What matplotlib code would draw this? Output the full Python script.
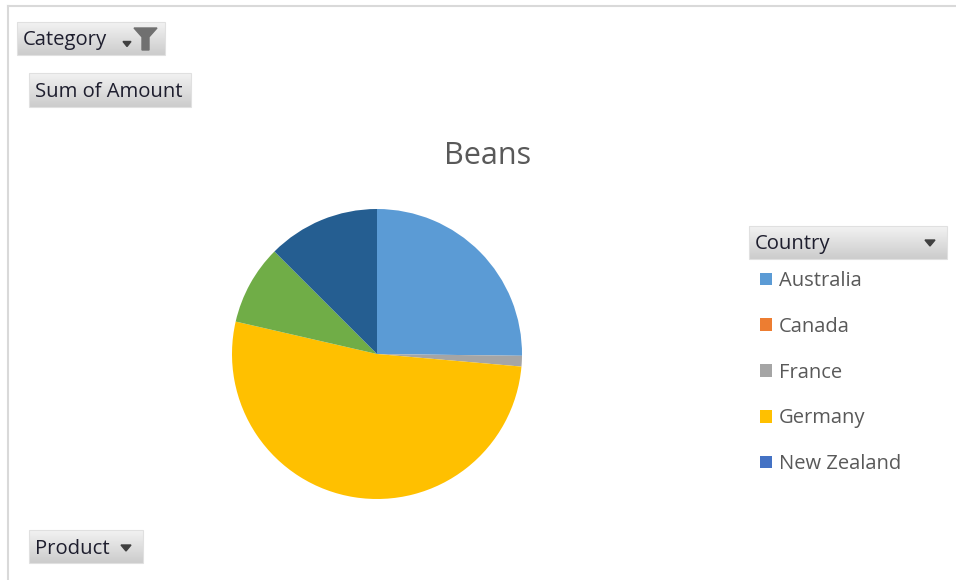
import matplotlib
matplotlib.use("Agg")
import matplotlib.pyplot as plt
import numpy as np
from matplotlib.patches import Rectangle, Polygon
from matplotlib.colors import LinearSegmentedColormap

countries = ["Australia", "Canada", "France", "Germany", "New Zealand",
             "United Kingdom", "United States"]
amounts = [14433, 0, 680, 29905, 0, 5100, 7163]
colors = ["#5B9BD5", "#ED7D31", "#A5A5A5", "#FFC000", "#4472C4",
          "#70AD47", "#255E91"]
legend_shown = 5
title = "Beans"

plt.rcParams['font.family'] = ['Open Sans', 'DejaVu Sans']

W, H = 956, 580
fig = plt.figure(figsize=(W / 100, H / 100), dpi=100)
fig.patch.set_facecolor("white")

# overlay in pixel coordinates
ov = fig.add_axes([0, 0, 1, 1])
ov.set_xlim(0, W)
ov.set_ylim(H, 0)
ov.axis("off")

# outer chart border
ov.plot([8, W], [6, 6], color="#D9D9D9", lw=1.5)
ov.plot([8, 8], [6, H], color="#D9D9D9", lw=1.5)

grad = np.linspace(0, 1, 50).reshape(-1, 1)
cmap = LinearSegmentedColormap.from_list("btn", ["#F2F2F2", "#CCCCCC"])


def button(x0, y0, x1, y1, text, fs=14.6):
    ov.imshow(grad, cmap=cmap, extent=(x0, x1, y1, y0), aspect="auto", zorder=1)
    ov.add_patch(Rectangle((x0, y0), x1 - x0, y1 - y0, fill=False,
                           edgecolor="#E0E0E0", lw=0.8, zorder=2))
    ov.text(x0 + 6, (y0 + y1) / 2 + 2, text, fontsize=fs, color="#1E1E2E",
            va="center", ha="left", zorder=3)


def tri(cx, cy, w=10, h=6):
    ov.add_patch(Polygon([[cx - w / 2, cy - h / 2], [cx + w / 2, cy - h / 2],
                          [cx, cy + h / 2]], closed=True, color="#404040",
                         zorder=4))


button(17, 22, 165, 55, "Category")
tri(127, 44, 8, 5)
ov.add_patch(Polygon([[134, 28], [157, 28], [149, 37], [149, 50], [142, 50],
                      [142, 37]], closed=True, color="#707070", zorder=4))
button(29, 73, 191, 107, "Sum of Amount")
button(29, 530, 143, 563, "Product")
tri(126, 548)
button(749, 226, 947, 259, "Country")
tri(930, 243)

ov.text(488, 156, title, fontsize=22, color="#595959", ha="center",
        va="center")

# pie
cx, cy, r = 377, 354, 145
pa = fig.add_axes([(cx - r) / W, 1 - (cy + r) / H, 2 * r / W, 2 * r / H])
wedges, _ = pa.pie(amounts, colors=colors, startangle=90, counterclock=False,
                   radius=1, wedgeprops=dict(linewidth=0))
pa.set_xlim(-1, 1)
pa.set_ylim(-1, 1)
pa.set_aspect("equal")
pa.axis("off")

leg = fig.legend(wedges[:legend_shown], countries[:legend_shown],
                 loc="upper left", bbox_to_anchor=(760 / W, 1 - 271 / H),
                 frameon=False, fontsize=14.5, handlelength=0.6,
                 handleheight=0.6, handletextpad=0.35, labelspacing=1.28,
                 borderpad=0, borderaxespad=0)
for t in leg.get_texts():
    t.set_color("#595959")

fig.savefig("out.png", dpi=100, facecolor="white")
